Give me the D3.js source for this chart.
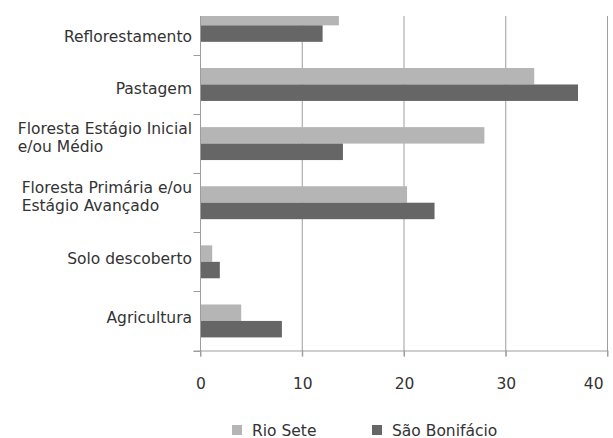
<!DOCTYPE html>
<html>
<head>
<meta charset="utf-8">
<script src="https://cdn.jsdelivr.net/npm/d3@7"></script>
<style>
  html, body { margin: 0; padding: 0; background: #fff; }
  svg { display: block; }
  text { font-family: "DejaVu Sans", Verdana, sans-serif; fill: #333; }
</style>
</head>
<body>
<svg id="chart" width="613" height="438"></svg>
<script>
// ---- data ----
const categories = [
  ["Reflorestamento"],
  ["Pastagem"],
  ["Floresta Estágio Inicial", "e/ou Médio"],
  ["Floresta Primária e/ou", "Estágio Avançado"],
  ["Solo descoberto"],
  ["Agricultura"]
];
const seriesNames = ["Rio Sete", "São Bonifácio"];
const rioSete      = [13.6, 32.8, 27.9, 20.3, 1.15, 4.0];
const saoBonifacio = [12.0, 37.1, 14.0, 23.0, 1.9, 8.0];
const xTicks = [0, 10, 20, 30, 40];

// ---- layout / style ----
const colors = ["#b5b5b5", "#666666"];
const gridColor = "#9d9d9d";
const fontSize = 15.5;
const plotLeft = 200.5, plotRight = 607.5;
const bandTop = -4.2, plotBottom = 350.5, visibleTop = 16;
const labelShift = [10.8, 4.1, -6.6, -6.6, -3.8, -3.6];

const svg = d3.select("#chart");
const keys = categories.map((c, i) => i);
const values = [rioSete, saoBonifacio];

const x = d3.scaleLinear().domain([0, 40]).range([plotLeft, plotRight]);
const y = d3.scaleBand().domain(keys).range([bandTop, plotBottom])
  .paddingInner(0.443).paddingOuter(0.443 / 2);
const ySub = d3.scaleBand().domain([0, 1]).range([0, y.bandwidth()]);

svg.append("defs").append("clipPath").attr("id", "plotclip")
  .append("rect").attr("x", 0).attr("y", visibleTop).attr("width", 613).attr("height", 400);

const plot = svg.append("g").attr("clip-path", "url(#plotclip)");

// gridlines
plot.append("g").selectAll("line").data(xTicks.filter(d => d > 0)).join("line")
  .attr("x1", d => x(d)).attr("x2", d => x(d))
  .attr("y1", bandTop).attr("y2", plotBottom + 6)
  .attr("stroke", gridColor).attr("stroke-width", 1);

// bars
const rows = [];
keys.forEach(k => values.forEach((s, si) => rows.push({k, si, v: s[k]})));
plot.append("g").selectAll("rect").data(rows).join("rect")
  .attr("x", x(0))
  .attr("y", d => y(d.k) + ySub(d.si))
  .attr("width", d => x(d.v) - x(0))
  .attr("height", ySub.bandwidth())
  .attr("fill", d => colors[d.si]);

// y axis line + ticks at category boundaries
const step = y.step();
const boundaries = d3.range(keys.length + 1).map(i => bandTop + i * step);
plot.append("line")
  .attr("x1", x(0)).attr("x2", x(0))
  .attr("y1", bandTop).attr("y2", plotBottom + 6)
  .attr("stroke", gridColor);
plot.append("g").selectAll("line").data(boundaries).join("line")
  .attr("x1", x(0) - 7).attr("x2", x(0))
  .attr("y1", d => Math.round(d) + 0.5).attr("y2", d => Math.round(d) + 0.5)
  .attr("stroke", gridColor);

// x axis
const xAxis = d3.axisBottom(x).tickValues(xTicks).tickSize(6).tickPadding(21)
  .tickFormat(d3.format("d"));
const gx = svg.append("g").attr("transform", `translate(0,${plotBottom})`).call(xAxis);
gx.select(".domain").attr("stroke", gridColor).attr("d", `M${x(0) - 7},0.5H${plotRight}`);
gx.selectAll(".tick line").attr("stroke", gridColor);
gx.selectAll(".tick text").attr("font-size", fontSize)
  .attr("font-family", '"DejaVu Sans", Verdana, sans-serif').attr("fill", "#333");
// keep the last label inside the picture
gx.selectAll(".tick text").filter(d => d === xTicks[xTicks.length - 1])
  .attr("text-anchor", "end").attr("x", -4.5);

// category labels (multi-line, block right aligned, lines left aligned)
const labelRight = 192;
const lineH = 18;
const capH = 0.729 * fontSize;
const lg = svg.append("g");
categories.forEach((lines, i) => {
  const c = y(i) + y.bandwidth() / 2;
  const firstBase = c - (lines.length - 1) * lineH / 2 + capH / 2 + labelShift[i];
  const t = lg.append("text").attr("font-size", fontSize);
  lines.forEach((ln, j) => {
    t.append("tspan").attr("x", 0).attr("y", firstBase + j * lineH).text(ln);
  });
  const w = d3.max(t.selectAll("tspan").nodes(), n => n.getComputedTextLength());
  t.selectAll("tspan").attr("x", labelRight - w);
});

// legend
const legendItems = [
  {name: seriesNames[0], color: colors[0], x: 232},
  {name: seriesNames[1], color: colors[1], x: 372}
];
const lgd = svg.append("g");
legendItems.forEach(it => {
  lgd.append("rect").attr("x", it.x).attr("y", 425).attr("width", 10).attr("height", 10)
    .attr("fill", it.color);
  lgd.append("text").attr("x", it.x + 20).attr("y", 435.5).attr("font-size", fontSize)
    .text(it.name);
});
</script>
</body>
</html>
